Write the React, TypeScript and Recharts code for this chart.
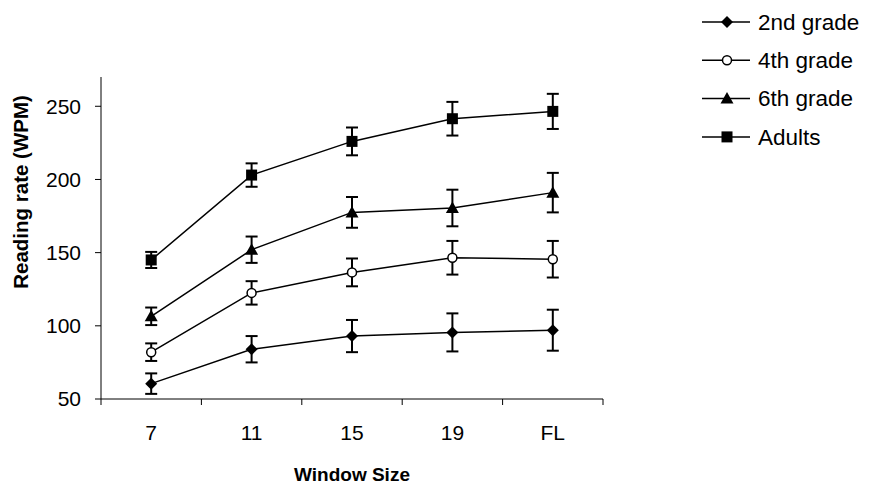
import React from 'react';
import { LineChart, Line, XAxis, YAxis, ErrorBar, Label } from 'recharts';

const categories = ['7', '11', '15', '19', 'FL'];
const grade2 = [60.5, 84, 93, 95.5, 97];
const grade2Err = [7, 9, 11, 13, 14];
const grade4 = [82, 122.5, 136.5, 146.5, 145.5];
const grade4Err = [6, 8, 9.5, 11.5, 12.5];
const grade6 = [106.5, 152, 177.5, 180.5, 191];
const grade6Err = [6, 9, 10.5, 12.5, 13.5];
const adults = [145, 203, 226, 241.5, 246.5];
const adultsErr = [5.5, 8, 9.5, 11.5, 12];
const yTicks = [50, 100, 150, 200, 250];
const seriesNames = ['2nd grade', '4th grade', '6th grade', 'Adults'];

const data = categories.map((c, i) => ({
  size: c,
  g2: grade2[i], g2e: grade2Err[i],
  g4: grade4[i], g4e: grade4Err[i],
  g6: grade6[i], g6e: grade6Err[i],
  ad: adults[i], ade: adultsErr[i],
}));

const FONT = '"Liberation Sans", Arial, sans-serif';

// marker shapes, shared by the plot and the legend
const Diamond = ({ cx, cy }: any) => (
  <path d={`M${cx},${cy - 6} L${cx + 6},${cy} L${cx},${cy + 6} L${cx - 6},${cy} Z`} fill="#000" />
);
const Circle = ({ cx, cy }: any) => (
  <circle cx={cx} cy={cy} r={4.5} fill="#fff" stroke="#000" strokeWidth={1.5} />
);
const Triangle = ({ cx, cy }: any) => (
  <path d={`M${cx},${cy - 6.5} L${cx + 6.5},${cy + 5} L${cx - 6.5},${cy + 5} Z`} fill="#000" />
);
const Square = ({ cx, cy }: any) => (
  <rect x={cx - 5.5} y={cy - 5.5} width={11} height={11} fill="#000" />
);
const markers = [Diamond, Circle, Triangle, Square];

const XTick = (props: any) => {
  const { x, y, payload, index, width, visibleTicksCount } = props;
  const half = width / (2 * categories.length);
  return (
    <g>
      <line x1={x - half} y1={y} x2={x - half} y2={y + 6} stroke="#000" strokeWidth={1} />
      {index === visibleTicksCount - 1 && (
        <line x1={x + half} y1={y} x2={x + half} y2={y + 6} stroke="#000" strokeWidth={1} />
      )}
      <text x={x} y={y + 41} textAnchor="middle" fontSize={21} fontFamily={FONT} fill="#000">
        {payload.value}
      </text>
    </g>
  );
};

const YTitle = ({ viewBox }: any) => {
  const x = viewBox.x + 21;
  const y = viewBox.y + 115;
  return (
    <text x={x} y={y} dy="0.35em" transform={`rotate(-90, ${x}, ${y})`} textAnchor="middle"
      fontSize={20.5} fontWeight="bold" fontFamily={FONT} fill="#000">
      Reading rate (WPM)
    </text>
  );
};

export default function App() {
  return (
    <div style={{ position: 'absolute', left: 0, top: 0, width: 870, height: 491, background: '#fff' }}>
      <LineChart width={870} height={491} data={data} margin={{ top: 77, right: 267, bottom: 0, left: 0 }}>
        <XAxis dataKey="size" scale="band" height={92} tick={<XTick />} tickLine={false} tickSize={0} tickMargin={0}
          axisLine={{ stroke: '#000', strokeWidth: 1 }} interval={0}>
          <Label value="Window Size" position="insideBottom" offset={10}
            style={{ fontSize: 19, fontWeight: 'bold', fontFamily: FONT, fill: '#000' }} />
        </XAxis>
        <YAxis width={101} domain={[50, 270]} ticks={yTicks} type="number" allowDataOverflow
          tick={{ fontSize: 21, fontFamily: FONT, fill: '#000' }} tickSize={6} tickMargin={14}
          tickLine={{ stroke: '#000' }} axisLine={{ stroke: '#000', strokeWidth: 1 }}>
          <Label content={<YTitle />} />
        </YAxis>
        {[['g2', 'g2e'], ['g4', 'g4e'], ['g6', 'g6e'], ['ad', 'ade']].map(([k, e], i) => {
          const M = markers[i];
          return (
            <Line key={k} name={seriesNames[i]} dataKey={k} stroke="#000" strokeWidth={1.5}
              isAnimationActive={false} dot={(p: any) => <M key={p.index} cx={p.cx} cy={p.cy} />}
              activeDot={false}>
              <ErrorBar dataKey={e} width={6} stroke="#000" strokeWidth={2} direction="y" isAnimationActive={false} />
            </Line>
          );
        })}
      </LineChart>
      <svg width={170} height={160} style={{ position: 'absolute', left: 700, top: 0 }}>
        {seriesNames.map((n, i) => {
          const M = markers[i];
          const cy = 22 + i * 38.3;
          return (
            <g key={n}>
              <line x1={2} y1={cy} x2={50} y2={cy} stroke="#000" strokeWidth={1.5} />
              <M cx={27} cy={cy} />
              <text x={58} y={cy} dy="0.35em" fontSize={22.5} fontFamily={FONT} fill="#000">{n}</text>
            </g>
          );
        })}
      </svg>
    </div>
  );
}
